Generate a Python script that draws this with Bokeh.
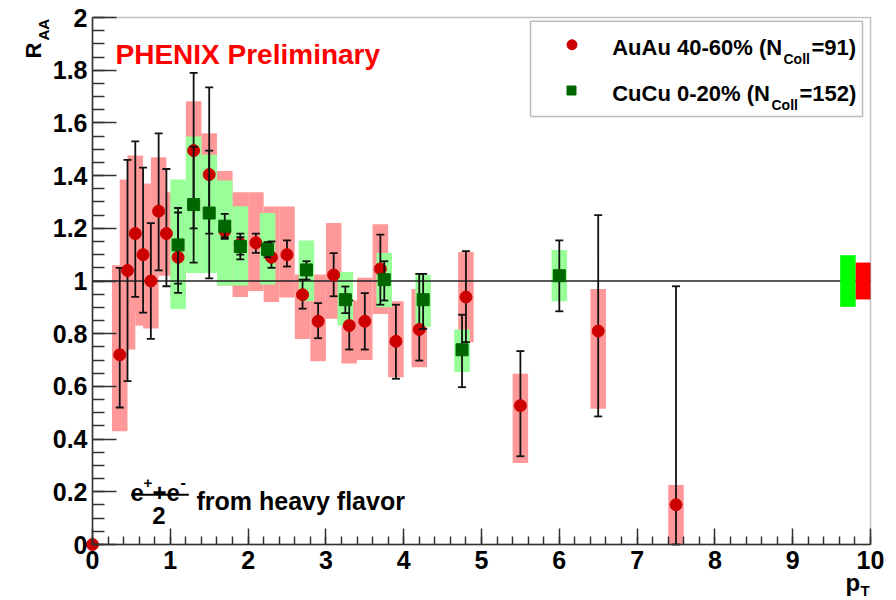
from math import pi
from bokeh.plotting import figure
from bokeh.models import Range1d, FixedTicker, Label, BoxAnnotation, LinearAxis
from bokeh.embed import file_html
from bokeh.resources import INLINE

# ---------------- data ----------------
# AuAu 40-60% (N_coll = 91)
auau_pt = [0.0, 0.35, 0.45, 0.55, 0.65, 0.75, 0.85, 0.95, 1.1, 1.3, 1.5, 1.7, 1.9, 2.1,
           2.3, 2.5, 2.7, 2.9, 3.1, 3.3, 3.5, 3.7, 3.9, 4.2, 4.8, 5.5, 6.5, 7.5]
auau_raa = [0.0, 0.72, 1.04, 1.18, 1.10, 1.00, 1.265, 1.18, 1.09, 1.495, 1.404, 1.19, 1.14, 1.145,
            1.09, 1.10, 0.948, 0.847, 1.023, 0.831, 0.847, 1.046, 0.771, 0.816, 0.939, 0.527, 0.81, 0.151]
auau_stat_lo = [0.0, 0.52, 0.62, 0.94, 0.88, 0.78, 1.04, 0.98, 0.955, 1.20, 1.18, 1.16, 1.10, 1.107,
                1.05, 1.055, 0.895, 0.783, 0.942, 0.74, 0.74, 0.91, 0.629, 0.698, 0.768, 0.335, 0.486, 0.0]
auau_stat_hi = [0.0, 1.05, 1.46, 1.53, 1.43, 1.22, 1.56, 1.425, 1.26, 1.79, 1.735, 1.22, 1.18, 1.18,
                1.15, 1.154, 1.005, 0.916, 1.106, 0.926, 0.954, 1.176, 0.91, 1.027, 1.113, 0.734, 1.25, 0.98]
auau_sys_lo = [0.0, 0.43, 0.74, 0.88, 0.83, 0.82, 1.06, 1.02, 0.95, 1.31, 1.25, 0.983, 0.939, 0.962,
               0.92, 0.937, 0.78, 0.695, 0.857, 0.687, 0.70, 0.875, 0.635, 0.673, 0.768, 0.309, 0.515, 0.0]
auau_sys_hi = [0.0, 1.06, 1.385, 1.476, 1.37, 1.18, 1.47, 1.337, 1.23, 1.682, 1.561, 1.417, 1.337, 1.337,
               1.283, 1.283, 1.025, 1.025, 1.22, 0.926, 1.012, 1.215, 0.923, 0.97, 1.11, 0.648, 0.97, 0.226]

# CuCu 0-20% (N_coll = 152)
cucu_pt = [1.1, 1.3, 1.5, 1.7, 1.9, 2.25, 2.75, 3.25, 3.75, 4.25, 4.75, 6.0]
cucu_raa = [1.137, 1.29, 1.258, 1.208, 1.131, 1.12, 1.042, 0.929, 1.005, 0.929, 0.739, 1.02]
cucu_stat_lo = [0.99, 1.07, 1.01, 1.166, 1.082, 1.09, 1.005, 0.878, 0.926, 0.818, 0.597, 0.885]
cucu_stat_hi = [1.277, 1.51, 1.495, 1.255, 1.166, 1.147, 1.075, 0.979, 1.075, 1.027, 0.872, 1.154]
cucu_sys_lo = [0.894, 1.03, 1.03, 0.983, 0.983, 0.987, 0.923, 0.831, 0.90, 0.825, 0.654, 0.923]
cucu_sys_hi = [1.385, 1.548, 1.479, 1.381, 1.284, 1.258, 1.154, 1.034, 1.106, 1.023, 0.816, 1.118]

# global normalisation uncertainties (half heights)
norm_auau = 0.07
norm_cucu = 0.098
ref_level = 1.0

x_ticks = [0, 1, 2, 3, 4, 5, 6, 7, 8, 9, 10]
x_tick_labels = ["0", "1", "2", "3", "4", "5", "6", "7", "8", "9", "10"]
y_ticks = [0, 0.2, 0.4, 0.6, 0.8, 1, 1.2, 1.4, 1.6, 1.8, 2]
y_tick_labels = ["0", "0.2", "0.4", "0.6", "0.8", "1", "1.2", "1.4", "1.6", "1.8", "2"]

# ---------------- styling ----------------
X0, X1, Y0, Y1 = 0, 10, 0, 2
W, H = 896, 600
FL, FT, FW, FH = 92, 17, 778, 527     # plot box inside the canvas, pixels
FONT = "Liberation Sans"
BOX_HW = 0.1
AXC = "#333333"


def dx(px):
    return X0 + (px - FL) / FW * (X1 - X0)


def dy(py):
    return Y1 - (py - FT) / FH * (Y1 - Y0)


p = figure(width=W, height=H, title=None,
           x_range=Range1d(dx(0), dx(W)), y_range=Range1d(dy(H), dy(0)),
           output_backend="svg", toolbar_location=None,
           x_axis_location=None, y_axis_location=None,
           min_border_left=0, min_border_right=0, min_border_top=0, min_border_bottom=0)
p.grid.visible = False
p.background_fill_color = "white"
p.border_fill_color = "white"
p.outline_line_color = None

xax = LinearAxis(fixed_location=Y0, bounds=(X0, X1))
yax = LinearAxis(fixed_location=X0, bounds=(Y0, Y1))
p.add_layout(xax, "below")
p.add_layout(yax, "left")

for ax, ticks, labels, tin, tmin, minor in (
        (xax, x_ticks, x_tick_labels, 16, 8, [round(i * 0.2, 2) for i in range(51)]),
        (yax, y_ticks, y_tick_labels, 24, 12, [round(i * 0.05, 2) for i in range(41)])):
    ax.ticker = FixedTicker(ticks=ticks, minor_ticks=minor)
    ax.major_label_overrides = {t: l for t, l in zip(ticks, labels)}
    ax.major_tick_in = tin
    ax.major_tick_out = 0
    ax.minor_tick_in = tmin
    ax.minor_tick_out = 0
    ax.axis_line_color = AXC
    ax.axis_line_width = 1.5
    ax.major_tick_line_color = AXC
    ax.major_tick_line_width = 1.5
    ax.minor_tick_line_color = AXC
    ax.minor_tick_line_width = 1.5
    ax.major_label_text_font = FONT
    ax.major_label_text_font_style = "bold"
    ax.major_label_text_font_size = "25px"
    ax.major_label_text_color = "black"
xax.major_label_standoff = 6
yax.major_label_standoff = 5

# systematic boxes
p.quad(left=[x - BOX_HW for x in auau_pt], right=[x + BOX_HW for x in auau_pt],
       bottom=auau_sys_lo, top=auau_sys_hi, fill_color="#ff9999", line_color=None)
p.quad(left=[x - BOX_HW for x in cucu_pt], right=[x + BOX_HW for x in cucu_pt],
       bottom=cucu_sys_lo, top=cucu_sys_hi, fill_color="#99ff99", line_color=None)

# reference line at 1
p.line([X0, X1], [ref_level, ref_level], line_color="#222222", line_width=1.5)

# normalisation boxes at the right edge
p.quad(left=[X1 - 0.39], right=[X1 - 0.19], bottom=[ref_level - norm_cucu], top=[ref_level + norm_cucu],
       fill_color="#00ff00", line_color=None)
p.quad(left=[X1 - 0.19], right=[X1], bottom=[ref_level - norm_auau], top=[ref_level + norm_auau],
       fill_color="#ff0000", line_color=None)

# AuAu points
p.segment(x0=auau_pt, y0=auau_stat_lo, x1=auau_pt, y1=auau_stat_hi, line_color="#111111", line_width=1.8)
p.scatter(auau_pt + auau_pt, auau_stat_lo + auau_stat_hi, marker="dash", size=8,
          line_color="#111111", line_width=1.8)
p.scatter(auau_pt, auau_raa, marker="circle", size=12, fill_color="#cc0000", line_color="#cc0000")

# CuCu points
p.segment(x0=cucu_pt, y0=cucu_stat_lo, x1=cucu_pt, y1=cucu_stat_hi, line_color="#111111", line_width=1.8)
p.scatter(cucu_pt + cucu_pt, cucu_stat_lo + cucu_stat_hi, marker="dash", size=8,
          line_color="#111111", line_width=1.8)
p.scatter(cucu_pt, cucu_raa, marker="square", size=12, fill_color="#006600", line_color="#006600")

# plot box
p.add_layout(BoxAnnotation(left=X0, right=X1, bottom=Y0, top=Y1, fill_alpha=0.0, fill_color=None,
                           line_color=AXC, line_width=1.5))

# legend
p.add_layout(BoxAnnotation(left=dx(530), right=dx(862), top=dy(20.7), bottom=dy(116),
                           fill_color="white", fill_alpha=1.0, line_color="#222222",
                           line_width=1.5, level="underlay"))
p.scatter([dx(571.5)], [dy(44.3)], marker="circle", size=10, fill_color="#cc0000", line_color="#cc0000")
p.scatter([dx(571)], [dy(90)], marker="square", size=9, fill_color="#006600", line_color="#006600")


def lab(px, py, text, size, color="black", angle=0.0):
    p.add_layout(Label(x=dx(px), y=dy(py), text=text, text_font=FONT, text_font_style="bold",
                       text_font_size=f"{size}px", text_color=color, text_align="left",
                       text_baseline="alphabetic", angle=angle))


lab(611.7, 47.3, "AuAu 40-60% (N", 22)
lab(783, 58.3, "Coll", 14)
lab(811, 47.3, "=91)", 22)
lab(611.7, 93.3, "CuCu 0-20% (N", 22)
lab(771, 104, "Coll", 14)
lab(799, 93.3, "=152)", 22)

# headline
lab(115, 54.3, "PHENIX Preliminary", 28, color="#ff0000")

# axis titles
lab(33, 58, "R", 22, angle=pi / 2)
lab(43, 40, "AA", 15, angle=pi / 2)
lab(845, 582, "p", 24)
lab(860, 590, "T", 15)

# (e+ + e-)/2 from heavy flavor
lab(130, 491.7, "e", 24)
lab(143, 482, "+", 15)
lab(152, 491.7, "+e", 24)
lab(180, 481, "-", 16)
p.segment(x0=[dx(130.7)], y0=[dy(494.3)], x1=[dx(188.3)], y1=[dy(494.3)], line_color="black", line_width=2)
lab(151.7, 515, "2", 24)
lab(196, 500.7, "from heavy flavor", 25)

open("out.html", "w").write(file_html(p, INLINE))
